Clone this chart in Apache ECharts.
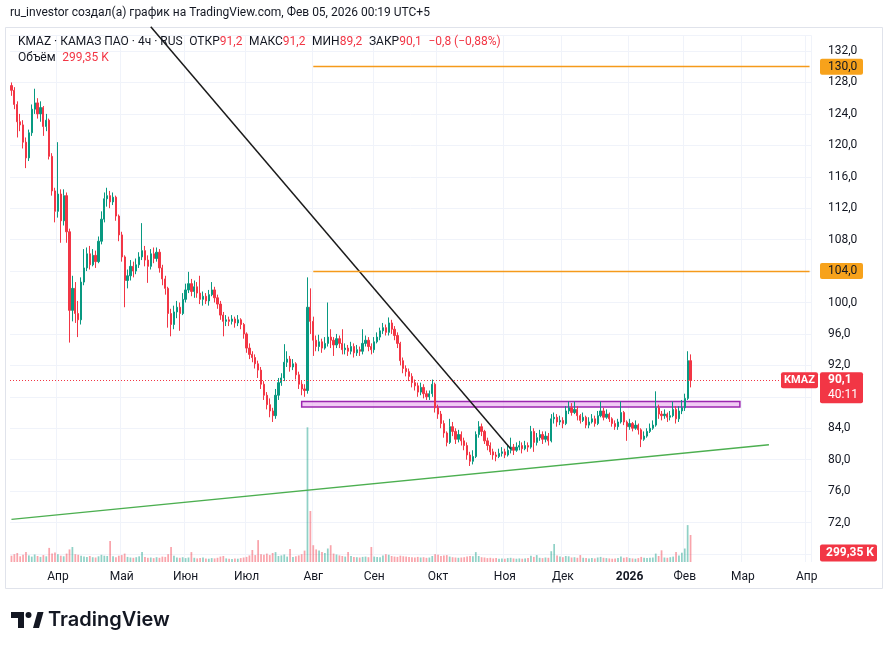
<!DOCTYPE html>
<html>
<head>
<meta charset="utf-8">
<title>KMAZ 4h</title>
<script src="https://cdn.jsdelivr.net/npm/echarts@6/dist/echarts.min.js"></script>
<style>
  html, body { margin: 0; padding: 0; background: #ffffff; }
  #chart { width: 893px; height: 650px; }
</style>
</head>
<body>
<div id="chart"></div>
<script>
// торговые дни (пн-пт), без праздников; последние категории - пустое место справа
var holidays = ['2026-01-01', '2026-01-02', '2026-01-07'];
var categories = [];
(function () {
  var d = new Date(Date.UTC(2025, 2, 10));
  var end = Date.UTC(2026, 3, 2);
  while (d.getTime() <= end) {
    var s = d.toISOString().slice(0, 10);
    var wd = d.getUTCDay();
    if (wd !== 0 && wd !== 6 && holidays.indexOf(s) < 0) categories.push(s);
    d.setUTCDate(d.getUTCDate() + 1);
  }
})();

var monthNames = ['Янв', 'Фев', 'Мар', 'Апр', 'Май', 'Июн', 'Июл', 'Авг', 'Сен', 'Окт', 'Ноя', 'Дек'];

// [open, close, low, high]
var candles = [
  [127.6,127.0,126.3,128.0],[127.0,125.2,124.6,127.4],[125.2,123.0,121.0,125.6],[123.0,122.6,121.8,124.0],[122.6,120.4,119.6,123.2],
  [120.4,118.4,117.1,121.0],[118.4,121.6,118.0,122.0],[121.6,124.6,121.2,125.2],[124.6,125.4,124.0,127.2],[125.4,124.0,123.4,126.0],
  [124.0,124.8,123.0,125.6],[124.8,122.4,121.2,125.0],[122.4,123.2,121.8,124.0],[123.2,118.6,118.2,123.4],[118.6,114.2,113.6,119.0],
  [114.2,111.6,110.2,114.6],[111.6,113.8,110.8,120.4],[113.8,110.4,107.6,114.4],[110.4,113.6,109.8,114.4],[113.6,109.0,107.6,114.0],
  [109.0,99.0,94.9,109.4],[99.0,101.8,97.6,103.4],[101.8,98.6,97.4,102.6],[98.6,97.8,95.6,100.2],[97.8,102.6,97.2,103.2],
  [102.6,104.4,102.2,106.8],[104.4,106.2,104.0,107.0],[106.2,104.8,104.2,107.2],[104.8,106.0,104.6,106.8],[106.0,105.2,104.4,106.6],
  [105.2,107.8,105.0,108.4],[107.8,110.6,107.4,111.6],[110.6,113.2,110.2,114.0],[113.2,113.6,112.2,114.6],[113.6,112.8,112.0,114.2],
  [112.8,113.4,112.4,114.0],[113.4,111.0,110.4,113.6],[111.0,108.6,107.8,111.2],[108.6,105.8,105.2,109.0],[105.8,102.8,99.4,106.0],
  [102.8,103.4,101.8,104.2],[103.4,104.6,102.8,105.4],[104.6,104.0,103.2,105.2],[104.0,104.8,103.6,105.6],[104.8,105.8,104.4,106.4],
  [105.8,106.6,105.4,110.1],[106.6,105.4,104.6,107.2],[105.4,104.6,102.5,106.0],[104.6,106.2,104.2,106.8],[106.2,105.6,105.0,107.0],
  [105.6,106.4,105.2,107.0],[106.4,104.4,103.8,106.8],[104.4,103.0,102.2,104.8],[103.0,101.8,101.0,103.4],[101.8,98.6,96.8,102.0],
  [98.6,97.2,95.7,99.2],[97.2,98.8,96.6,99.6],[98.8,99.4,98.0,100.2],[99.4,98.6,96.4,100.0],[98.6,100.4,98.4,101.2],
  [100.4,101.6,100.0,102.4],[101.6,102.4,101.2,103.9],[102.4,101.4,100.8,103.0],[101.4,102.0,100.6,102.8],[102.0,101.2,100.6,102.6],
  [101.2,100.4,99.8,103.4],[100.4,100.8,99.6,101.4],[100.8,100.2,99.8,101.2],[100.2,101.0,99.6,101.6],[101.0,101.6,100.8,102.6],
  [101.6,100.6,100.0,102.0],[100.6,99.8,99.2,101.0],[99.8,98.4,97.8,100.2],[98.4,97.6,95.7,98.8],[97.6,97.8,97.0,98.4],
  [97.8,97.6,97.0,98.2],[97.6,97.9,97.2,98.4],[97.9,97.4,96.8,98.2],[97.4,97.8,97.0,98.4],[97.8,97.2,96.6,98.0],
  [97.2,96.0,95.4,97.4],[96.0,94.2,93.6,96.2],[94.2,93.4,92.8,94.8],[93.4,93.0,92.4,93.8],[93.0,92.2,91.6,93.4],
  [92.2,91.4,90.4,92.6],[91.4,89.6,89.0,91.8],[89.6,88.2,87.6,90.0],[88.2,87.0,86.4,88.6],[87.0,86.2,85.4,87.8],
  [86.2,85.6,84.8,86.6],[85.6,88.2,85.2,89.0],[88.2,89.8,87.6,90.4],[89.8,90.4,89.4,91.0],[90.4,92.4,90.0,94.7],
  [92.4,92.8,91.8,93.8],[92.8,91.8,91.2,93.2],[91.8,92.2,91.4,92.8],[92.2,90.8,90.2,92.4],[90.8,89.6,89.0,91.2],
  [89.6,89.0,88.2,90.0],[89.0,88.8,88.0,89.6],[88.8,99.4,88.4,103.2],[99.4,97.6,96.0,101.8],[97.6,95.2,93.2,98.2],
  [95.2,94.4,93.8,95.8],[94.4,95.0,93.8,95.9],[95.0,94.2,93.6,95.4],[94.2,94.8,94.0,95.6],[94.8,95.6,94.4,100.0],
  [95.6,95.2,94.2,96.6],[95.2,94.6,93.2,95.6],[94.6,95.4,94.2,96.0],[95.4,94.8,94.2,95.8],[94.8,94.0,93.4,96.6],
  [94.0,94.2,93.4,94.8],[94.2,93.8,93.2,94.6],[93.8,94.4,93.4,95.0],[94.4,93.6,93.0,94.8],[93.6,94.0,93.2,94.6],
  [94.0,93.8,93.2,94.4],[93.8,94.8,93.4,96.6],[94.8,95.2,94.4,95.8],[95.2,94.4,93.8,95.6],[94.4,94.0,93.4,94.8],
  [94.0,95.0,93.6,95.6],[95.0,95.6,94.8,96.2],[95.6,96.4,95.2,96.8],[96.4,96.8,96.0,97.4],[96.8,96.2,95.8,97.2],
  [96.2,97.4,95.8,98.1],[97.4,96.6,96.0,97.8],[96.6,95.8,95.2,97.0],[95.8,94.8,94.2,96.2],[94.8,92.6,92.0,95.0],
  [92.6,91.6,91.0,93.0],[91.6,91.2,90.6,92.0],[91.2,90.6,90.0,91.6],[90.6,89.8,89.2,91.0],[89.8,89.4,88.8,90.2],
  [89.4,88.6,88.0,89.8],[88.6,89.2,88.2,89.8],[89.2,88.4,87.8,89.6],[88.4,88.0,87.6,88.8],[88.0,88.4,87.6,88.8],
  [88.4,89.6,88.0,90.2],[89.6,86.6,86.0,89.8],[86.6,85.8,85.2,87.0],[85.8,84.6,84.0,86.2],[84.6,83.4,82.8,85.0],
  [83.4,82.2,81.7,83.6],[82.2,84.2,82.0,85.2],[84.2,83.6,83.0,84.8],[83.6,82.6,82.0,84.0],[82.6,83.2,82.2,83.8],
  [83.2,82.4,81.8,83.6],[82.4,81.8,81.2,82.8],[81.8,80.6,80.0,82.2],[80.6,79.8,79.2,81.0],[79.8,80.4,79.4,81.2],
  [80.4,83.2,80.2,83.6],[83.2,84.2,82.8,84.9],[84.2,83.6,83.0,84.6],[83.6,82.4,82.0,83.8],[82.4,81.8,81.2,82.8],
  [81.8,81.0,80.6,82.2],[81.0,80.6,80.0,81.4],[80.6,80.4,79.8,81.0],[80.4,80.8,80.2,81.4],[80.8,81.0,80.4,81.6],
  [81.0,80.6,80.2,81.4],[80.6,81.2,80.4,81.8],[81.2,81.6,80.8,82.8],[81.6,81.2,80.6,82.0],[81.2,81.6,81.0,82.2],
  [81.6,81.8,81.2,82.4],[81.8,81.4,80.8,82.2],[81.4,81.8,81.2,82.4],[81.8,81.6,81.0,82.2],[81.6,83.6,81.4,84.3],
  [83.6,82.2,81.0,84.0],[82.2,82.8,81.8,83.4],[82.8,83.2,82.4,83.8],[83.2,82.6,82.0,83.6],[82.6,83.0,82.2,83.6],
  [83.0,82.4,81.8,83.4],[82.4,85.2,82.2,85.8],[85.2,85.4,84.6,86.0],[85.4,84.8,84.2,85.8],[84.8,85.0,84.4,85.6],
  [85.0,84.6,84.0,85.4],[84.6,86.2,84.4,86.8],[86.2,86.6,85.8,87.4],[86.6,86.0,85.6,87.2],[86.0,86.4,85.8,87.4],
  [86.4,85.6,85.0,86.8],[85.6,85.0,84.6,85.8],[85.0,85.4,84.8,86.0],[85.4,84.4,84.0,85.6],[84.4,84.8,84.0,85.4],
  [84.8,85.2,84.6,85.8],[85.2,84.6,84.2,85.6],[84.6,85.6,84.4,86.2],[85.6,86.2,85.4,87.4],[86.2,85.4,85.0,86.6],
  [85.4,85.8,85.2,86.4],[85.8,85.2,84.8,86.0],[85.2,84.6,84.2,85.4],[84.6,84.2,83.8,85.0],[84.2,84.8,83.8,85.2],
  [84.8,86.0,84.6,87.4],[86.0,84.8,84.4,86.2],[84.8,84.2,82.4,85.0],[84.2,84.6,83.8,85.2],[84.6,84.0,83.6,84.8],
  [84.0,84.4,83.8,85.0],[84.4,83.8,83.2,84.6],[83.8,82.6,81.6,84.0],[82.6,83.0,82.4,83.6],[83.0,83.6,82.8,84.0],
  [83.6,84.0,83.4,84.6],[84.0,84.4,83.8,85.0],[84.4,86.6,84.2,88.7],[86.6,85.8,85.2,87.0],[85.8,85.6,85.0,86.2],
  [85.6,85.8,85.2,86.4],[85.8,85.4,84.8,86.0],[85.4,85.6,85.0,86.2],[85.6,86.4,85.4,87.4],[86.4,85.2,84.6,86.8],
  [85.2,86.2,84.8,86.8],[86.2,86.6,85.8,87.6],[86.6,87.8,86.2,88.4],[87.8,92.6,87.6,93.8],[92.6,90.1,89.2,93.4]
];

// объём, тыс.
var volumes = [
  210, 260, 300, 190, 240, 330, 220, 180, 250, 200,
  170, 230, 190, 470, 280, 320, 260, 210, 190, 280,
  420, 500, 260, 240, 210, 180, 170, 200, 160, 150,
  190, 240, 210, 200, 700, 190, 160, 210, 230, 280,
  170, 150, 140, 160, 190, 330, 170, 140, 150, 130,
  160, 140, 180, 170, 260, 500, 210, 150, 140, 160,
  130, 150, 330, 140, 120, 130, 150, 120, 110, 130,
  120, 140, 180, 200, 120, 110, 100, 120, 110, 130,
  150, 170, 220, 400, 230, 730, 260, 240, 280, 230,
  300, 330, 200, 220, 250, 180, 430, 170, 190, 220,
  260, 380, 4490, 1700, 560, 420, 380, 330, 300, 450,
  560, 280, 250, 220, 200, 180, 330, 200, 170, 160,
  150, 170, 180, 160, 500, 180, 170, 160, 220, 260,
  240, 200, 180, 170, 210, 190, 180, 170, 160, 150,
  170, 150, 160, 140, 150, 200, 260, 240, 200, 220,
  230, 180, 160, 150, 140, 150, 160, 180, 200, 190,
  330, 200, 160, 150, 130, 140, 120, 130, 110, 120,
  110, 130, 140, 120, 110, 120, 110, 120, 130, 210,
  170, 230, 140, 130, 150, 140, 360, 600, 220, 180,
  160, 200, 190, 150, 160, 140, 230, 140, 130, 120,
  130, 120, 150, 170, 140, 130, 120, 110, 120, 130,
  180, 140, 160, 130, 120, 110, 130, 170, 140, 130,
  140, 150, 280, 200, 390, 150, 140, 160, 180, 330,
  220, 310, 450, 1230, 900
];

var lastClose = 90.1;
var lastVolume = 299.35;
var levels = [130, 104];           // горизонтальные уровни
var zoneTop = 87.4, zoneBottom = 86.7;
// линии тренда: [индекс дня, цена]
var downTrend = [[48, 135.1], [172, 81.4]];
var upTrend = [[0, 72.4], [261, 81.9]];

var UP = '#089981', DOWN = '#f23645';
var FONT = 'Roboto, "Noto Sans", sans-serif';

function isMonthStart(index) {
  return index > 0 && categories[index].slice(0, 7) !== categories[index - 1].slice(0, 7);
}
function fmt(v) { return v.toFixed(1).replace('.', ','); }

var volumeData = volumes.map(function (v, i) {
  var c = candles[i];
  return { value: v, itemStyle: { color: c[1] >= c[0] ? 'rgba(8,153,129,0.45)' : 'rgba(242,54,69,0.45)' } };
});

var chart = echarts.init(document.getElementById('chart'), null, { renderer: 'canvas' });

var option = {
  animation: false,
  backgroundColor: '#ffffff',
  textStyle: { fontFamily: FONT },
  grid: [
    { left: 10, right: 82, top: 35.3, bottom: 96 },
    { left: 10, right: 82, top: 427, bottom: 88 }
  ],
  xAxis: [
    {
      type: 'category', gridIndex: 0, data: categories,
      axisLine: { show: false }, axisTick: { show: false }, axisLabel: { show: false },
      splitLine: { show: true, interval: isMonthStart, lineStyle: { color: '#f0f3fa' } }
    },
    {
      type: 'category', gridIndex: 1, data: categories,
      axisLine: { show: false }, axisTick: { show: false },
      splitLine: { show: true, interval: isMonthStart, lineStyle: { color: '#f0f3fa' } },
      axisLabel: {
        interval: isMonthStart, margin: 9, color: '#131722', fontSize: 12,
        formatter: function (value) {
          var m = +value.slice(5, 7) - 1;
          return m === 0 ? '{y|' + value.slice(0, 4) + '}' : monthNames[m];
        },
        rich: { y: { fontWeight: 'bold', fontSize: 12, color: '#131722' } }
      }
    }
  ],
  yAxis: [
    {
      type: 'value', gridIndex: 0, position: 'right', min: 68, max: 134, interval: 4,
      axisLine: { show: false }, axisTick: { show: false },
      axisLabel: {
        margin: 17, color: '#131722', fontSize: 12,
        formatter: function (v) { return (v === 68 || v === 134) ? '' : fmt(v); }
      },
      splitLine: { lineStyle: { color: '#f0f3fa' } }
    },
    { type: 'value', gridIndex: 1, min: 0, max: 4500, show: false }
  ],
  series: [
    {
      type: 'bar', name: 'Объём', xAxisIndex: 1, yAxisIndex: 1,
      data: volumeData, barWidth: '60%', silent: true
    },
    {
      type: 'candlestick', name: 'KMAZ', xAxisIndex: 0, yAxisIndex: 0,
      data: candles, barWidth: '60%',
      itemStyle: { color: UP, color0: DOWN, borderColor: UP, borderColor0: DOWN, borderWidth: 1 },
      markArea: {
        silent: true,
        itemStyle: { color: 'rgba(230,160,235,0.55)', borderColor: '#9c27b0', borderWidth: 1.5 },
        data: [[
          { xAxis: categories[100], yAxis: zoneTop },
          { xAxis: categories[251], yAxis: zoneBottom }
        ]]
      },
      markLine: {
        silent: true, symbol: ['none', 'none'], label: { show: false },
        data: [
          [{ coord: [categories[104], levels[0]], lineStyle: { color: '#f59a1b', width: 1.4, type: 'solid' } },
           { coord: [categories[categories.length - 1], levels[0]] }],
          [{ coord: [categories[104], levels[1]], lineStyle: { color: '#f59a1b', width: 1.4, type: 'solid' } },
           { coord: [categories[categories.length - 1], levels[1]] }],
          { yAxis: lastClose, lineStyle: { color: '#f23645', width: 1, type: [1, 2] } }
        ]
      }
    },
    {
      type: 'line', xAxisIndex: 0, yAxisIndex: 0, clip: false, silent: true, symbol: 'none',
      lineStyle: { color: '#1b1b1b', width: 1.5 },
      data: downTrend.map(function (p) { return [categories[p[0]], p[1]]; })
    },
    {
      type: 'line', xAxisIndex: 0, yAxisIndex: 0, clip: false, silent: true, symbol: 'none',
      lineStyle: { color: '#4caf50', width: 1.3 },
      data: upTrend.map(function (p) { return [categories[p[0]], p[1]]; })
    }
  ],
  graphic: [
    { type: 'rect', silent: true, z: -10, shape: { x: 5.5, y: 27.5, width: 877, height: 561 },
      style: { fill: 'none', stroke: '#e0e3eb', lineWidth: 1 } },
    { type: 'text', x: 10, y: 13, style: {
      text: 'ru_investor создал(а) график на TradingView.com, Фев 05, 2026 00:19 UTC+5',
      font: '12px ' + FONT, fill: '#131722', verticalAlign: 'middle' } },
    { type: 'text', x: 18, y: 42, z: 20, style: {
      text: '{n|KMAZ · КАМАЗ ПАО · 4ч · RUS}  {n|ОТКР}{r|91,2}  {n|МАКС}{r|91,2}  {n|МИН}{r|89,2}  {n|ЗАКР}{r|90,1}  {r|−0,8 (−0,88%)}',
      verticalAlign: 'middle',
      rich: {
        n: { font: '12px ' + FONT, fill: '#131722' },
        r: { font: '12px ' + FONT, fill: '#f23645' }
      } } },
    { type: 'text', x: 18, y: 58, z: 20, style: {
      text: '{n|Объём}  {r|299,35 K}',
      verticalAlign: 'middle',
      rich: {
        n: { font: '12px ' + FONT, fill: '#131722' },
        r: { font: '12px ' + FONT, fill: '#f23645' }
      } } },
    // логотип
    { type: 'polygon', shape: { points: [[11, 612], [24, 612], [24, 628], [18, 628], [18, 618], [11, 618]] },
      style: { fill: '#131722' } },
    { type: 'circle', shape: { cx: 28.5, cy: 615, r: 3 }, style: { fill: '#131722' } },
    { type: 'polygon', shape: { points: [[33, 628], [37.5, 612], [43.5, 612], [39, 628]] },
      style: { fill: '#131722' } },
    { type: 'text', x: 48, y: 620, style: {
      text: 'TradingView', font: '600 20px Inter, Roboto, sans-serif', fill: '#131722', verticalAlign: 'middle' } }
  ]
};

chart.setOption(option);

// метки на шкале цен
var yPrice = chart.convertToPixel({ yAxisIndex: 0 }, lastClose);
var yVol = chart.convertToPixel({ yAxisIndex: 1 }, lastVolume);
var tags = [];
levels.forEach(function (lv) {
  var y = chart.convertToPixel({ yAxisIndex: 0 }, lv);
  tags.push({ type: 'rect', z: 30, shape: { x: 820, y: y - 8, width: 43, height: 16, r: 2 }, style: { fill: '#f7a21b' } });
  tags.push({ type: 'text', z: 31, x: 828, y: y, style: { text: fmt(lv), font: '12px ' + FONT, fill: '#131722', verticalAlign: 'middle' } });
});
tags.push({ type: 'rect', z: 30, shape: { x: 781, y: yPrice - 8, width: 37, height: 16, r: 2 }, style: { fill: '#f23645' } });
tags.push({ type: 'text', z: 31, x: 799.5, y: yPrice, style: { text: 'KMAZ', font: 'bold 11px ' + FONT, fill: '#ffffff', align: 'center', verticalAlign: 'middle' } });
tags.push({ type: 'rect', z: 30, shape: { x: 820, y: yPrice - 8, width: 43, height: 31, r: 2 }, style: { fill: '#f23645' } });
tags.push({ type: 'text', z: 31, x: 828, y: yPrice, style: { text: fmt(lastClose), font: 'bold 12px ' + FONT, fill: '#ffffff', verticalAlign: 'middle' } });
tags.push({ type: 'text', z: 31, x: 828, y: yPrice + 15, style: { text: '40:11', font: '12px ' + FONT, fill: '#ffffff', verticalAlign: 'middle' } });
tags.push({ type: 'rect', z: 30, shape: { x: 820, y: yVol - 8.5, width: 57, height: 17, r: 2 }, style: { fill: '#f23645' } });
tags.push({ type: 'text', z: 31, x: 826, y: yVol, style: { text: '299,35 K', font: 'bold 12px ' + FONT, fill: '#ffffff', verticalAlign: 'middle' } });

chart.setOption({ graphic: option.graphic.concat(tags) });
</script>
</body>
</html>
